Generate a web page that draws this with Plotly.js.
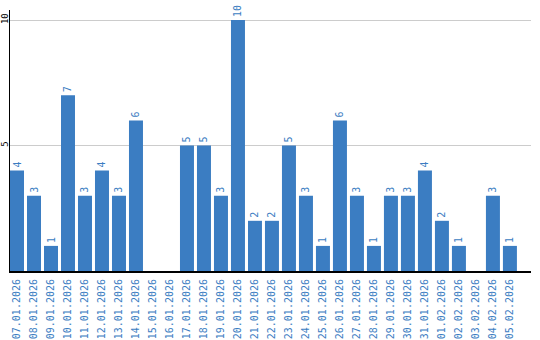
<!DOCTYPE html>
<html>
<head>
<meta charset="utf-8">
<script src="https://cdn.plot.ly/plotly-3.0.1.min.js"></script>
<style>html,body{margin:0;padding:0;background:#fff;}#chart{width:540px;height:340px;}</style>
</head>
<body>
<div id="chart"></div>
<script>
const dates = ["07.01.2026","08.01.2026","09.01.2026","10.01.2026","11.01.2026","12.01.2026","13.01.2026","14.01.2026","15.01.2026","16.01.2026","17.01.2026","18.01.2026","19.01.2026","20.01.2026","21.01.2026","22.01.2026","23.01.2026","24.01.2026","25.01.2026","26.01.2026","27.01.2026","28.01.2026","29.01.2026","30.01.2026","31.01.2026","01.02.2026","02.02.2026","03.02.2026","04.02.2026","05.02.2026"];
const counts = [4,3,1,7,3,4,3,6,0,0,5,5,3,10,2,2,5,3,1,6,3,1,3,3,4,2,1,0,3,1];
const yTicks = [5,10];

const blue = "#3b7dc2";
const font = "DejaVu Sans Mono, monospace";

const trace = {
  type: "bar",
  x: dates,
  y: counts,
  text: counts.map(v => v > 0 ? String(v) : ""),
  textposition: "outside",
  textangle: -90,
  constraintext: "none",
  cliponaxis: false,
  textfont: {family: font, size: 10, color: blue},
  marker: {color: blue},
  hoverinfo: "none"
};

const layout = {
  width: 540, height: 340,
  margin: {l: 10, r: 9, t: 10, b: 69, pad: 0},
  paper_bgcolor: "#fff", plot_bgcolor: "#fff",
  bargap: 3/17,
  showlegend: false,
  xaxis: {
    type: "category",
    range: [-0.412, 30.24],
    tickangle: -90,
    tickfont: {family: font, size: 10, color: blue},
    ticklabelstandoff: 2,
    showline: true, linecolor: "#000", linewidth: 2,
    showgrid: false, zeroline: false, ticks: "",
    fixedrange: true
  },
  yaxis: {
    range: [0, 10.4],
    tickvals: yTicks,
    ticktext: yTicks.map(String),
    tickangle: -90,
    tickfont: {family: font, size: 9, color: "#000"},
    ticklabelstandoff: -3,
    showline: true, linecolor: "#000", linewidth: 1,
    showgrid: true, gridcolor: "#cccccc", gridwidth: 1,
    zeroline: false, ticks: "",
    fixedrange: true
  }
};

Plotly.newPlot("chart", [trace], layout, {displayModeBar: false, staticPlot: true});
</script>
</body>
</html>
